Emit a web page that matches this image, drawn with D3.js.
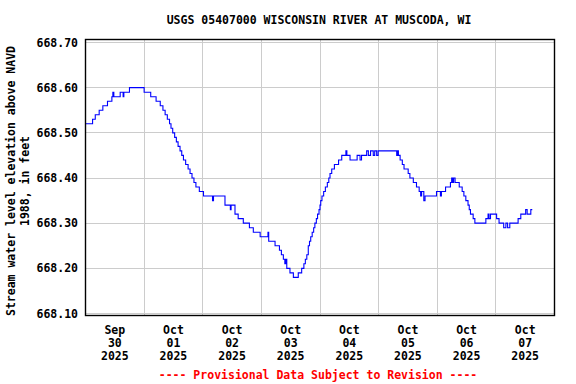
<!DOCTYPE html>
<html>
<head>
<meta charset="utf-8">
<script src="https://cdn.jsdelivr.net/npm/d3@7"></script>
<style>
  html, body { margin: 0; padding: 0; background: #fff; }
  svg { display: block; }
  text { font-family: "DejaVu Sans Mono", "Liberation Mono", monospace; font-weight: bold; font-size: 11.5px; }
</style>
</head>
<body>
<svg id="chart" width="576" height="384"></svg>
<script>
// ---- data (hours after 2025-09-30 00:00, gage height in ft; step changes)
const hours = [
  0.0, 2.9, 4.0, 5.6, 7.1, 9.0, 10.8, 11.2, 11.6, 14.2, 15.4, 15.7, 18.0,
  24.0, 26.7, 28.9, 30.6, 31.7, 32.6, 33.5, 34.4, 35.0, 35.7,
  36.5, 37.2, 37.9, 38.7, 39.4, 40.1, 41.0, 42.0, 42.8, 43.6, 44.4, 45.2, 46.6, 48.3,
  52.0, 52.4, 57.1, 59.3, 59.6, 61.2, 62.5, 64.6, 67.1, 68.7, 71.5, 74.7, 75.0,
  77.6, 79.4, 80.2, 81.0, 81.6, 82.0, 82.4, 83.7, 85.1, 87.1, 88.5, 89.4, 90.0,
  90.6, 91.2, 91.7, 92.2, 92.8, 93.4, 93.9, 94.5, 95.0, 95.6, 96.0,
  96.3, 96.8, 97.5, 98.2, 99.0, 99.6, 100.1, 100.8, 101.9, 103.6, 104.9, 106.6,
  107.0, 108.3, 111.2, 112.4, 113.0, 115.1, 115.8, 116.7, 117.8, 118.4, 119.2, 119.8,
  127.4, 127.8, 128.1, 128.8, 129.7, 130.4, 131.4, 132.1, 132.8, 134.2, 135.5, 136.6,
  137.2, 137.6, 138.5, 139.0, 143.7, 145.3, 145.7, 147.4, 149.4, 149.9, 150.3, 150.7,
  151.3, 153.0, 154.2, 154.9, 155.7, 156.6, 157.1, 157.6, 158.7, 159.4, 163.9,
  164.8, 165.2, 165.8, 168.3, 169.3, 171.2, 172.1, 172.8, 173.7, 177.1, 178.2,
  180.2, 180.8, 182.3, 182.9
];
const levels = [
  668.52, 668.53, 668.54, 668.55, 668.56, 668.57, 668.58, 668.59, 668.58, 668.59, 668.58, 668.59, 668.60,
  668.59, 668.58, 668.57, 668.56, 668.55, 668.54, 668.53, 668.52, 668.51, 668.50,
  668.49, 668.48, 668.47, 668.46, 668.45, 668.44, 668.43, 668.42, 668.41, 668.40, 668.39, 668.38, 668.37, 668.36,
  668.35, 668.36, 668.34, 668.33, 668.34, 668.32, 668.31, 668.30, 668.29, 668.28, 668.27, 668.28, 668.26,
  668.25, 668.24, 668.23, 668.22, 668.21, 668.22, 668.20, 668.19, 668.18, 668.19, 668.20, 668.21, 668.22,
  668.23, 668.25, 668.26, 668.27, 668.28, 668.29, 668.30, 668.31, 668.32, 668.33, 668.34,
  668.35, 668.36, 668.37, 668.38, 668.39, 668.40, 668.41, 668.42, 668.43, 668.44, 668.45, 668.46,
  668.45, 668.44, 668.45, 668.44, 668.45, 668.46, 668.45, 668.46, 668.45, 668.46, 668.45, 668.46,
  668.45, 668.46, 668.45, 668.44, 668.43, 668.42, 668.42, 668.41, 668.40, 668.39, 668.38, 668.37,
  668.36, 668.37, 668.35, 668.36, 668.37, 668.36, 668.37, 668.38, 668.39, 668.40, 668.39, 668.40,
  668.39, 668.38, 668.37, 668.36, 668.35, 668.34, 668.33, 668.32, 668.31, 668.30, 668.31,
  668.32, 668.31, 668.32, 668.31, 668.30, 668.29, 668.30, 668.29, 668.30, 668.31, 668.32,
  668.33, 668.32, 668.33, 668.33
];
const yTicks = [668.10, 668.20, 668.30, 668.40, 668.50, 668.60, 668.70];
const xTickMonths = ["Sep", "Oct", "Oct", "Oct", "Oct", "Oct", "Oct", "Oct"];
const xTickDays = ["30", "01", "02", "03", "04", "05", "06", "07"];
const xTickYears = ["2025", "2025", "2025", "2025", "2025", "2025", "2025", "2025"];
const titleText = "USGS 05407000 WISCONSIN RIVER AT MUSCODA, WI";
const yLabel1 = "Stream water level elevation above NAVD";
const yLabel2 = "1988, in feet";
const footerText = "---- Provisional Data Subject to Revision ----";

// ---- layout
const svg = d3.select("#chart");
const plotL = 85.5, plotR = 554.5, plotT = 39.5, plotB = 315.5;
const x = d3.scaleLinear().domain([0, 192]).range([plotL, plotR]);
const y = d3.scaleLinear().domain([668.10, 668.70]).range([313.5, 42.5]);
const snap = v => Math.round(v - 0.5) + 0.5;

// gridlines
const grid = svg.append("g").attr("stroke", "#cccccc").attr("stroke-width", 1);
grid.selectAll("line.h").data(yTicks).join("line")
  .attr("x1", plotL).attr("x2", plotR)
  .attr("y1", d => snap(y(d))).attr("y2", d => snap(y(d)));
const dayLines = d3.range(1, 8).map(i => i * 24);
grid.selectAll("line.v").data(dayLines).join("line")
  .attr("y1", plotT).attr("y2", plotB)
  .attr("x1", d => snap(x(d))).attr("x2", d => snap(x(d)));

// data line
const pts = hours.map((h, i) => [h, levels[i]]);
svg.append("path")
  .datum(pts)
  .attr("fill", "none")
  .attr("stroke", "#0000ff")
  .attr("stroke-width", 1.1)
  .attr("d", d3.line().x(d => x(d[0])).y(d => y(d[1])).curve(d3.curveStepAfter));

// frame
svg.append("rect")
  .attr("x", plotL).attr("y", plotT)
  .attr("width", plotR - plotL).attr("height", plotB - plotT)
  .attr("fill", "none").attr("stroke", "#000").attr("stroke-width", 1.4);

// y tick labels
svg.append("g").selectAll("text").data(yTicks).join("text")
  .attr("x", 78).attr("y", d => y(d) + 4)
  .attr("text-anchor", "end")
  .attr("fill", "#000")
  .text(d => d.toFixed(2));

// x tick labels (centered at noon each day)
const xl = svg.append("g").attr("text-anchor", "middle").attr("fill", "#000");
xTickMonths.forEach((m, i) => {
  const cx = x(i * 24 + 12);
  xl.append("text").attr("x", cx).attr("y", 334).text(m);
  xl.append("text").attr("x", cx).attr("y", 347).text(xTickDays[i]);
  xl.append("text").attr("x", cx).attr("y", 360).text(xTickYears[i]);
});

// title
svg.append("text").attr("x", 319).attr("y", 24)
  .attr("text-anchor", "middle").attr("fill", "#000").text(titleText);

// y-axis label
svg.append("text").attr("transform", "translate(15,181) rotate(-90)")
  .attr("text-anchor", "middle").attr("fill", "#000").text(yLabel1);
svg.append("text").attr("transform", "translate(29,181) rotate(-90)")
  .attr("text-anchor", "middle").attr("fill", "#000").text(yLabel2);

// footer
svg.append("text").attr("x", 318).attr("y", 379)
  .attr("text-anchor", "middle").attr("fill", "#ff0000").text(footerText);
</script>
</body>
</html>
